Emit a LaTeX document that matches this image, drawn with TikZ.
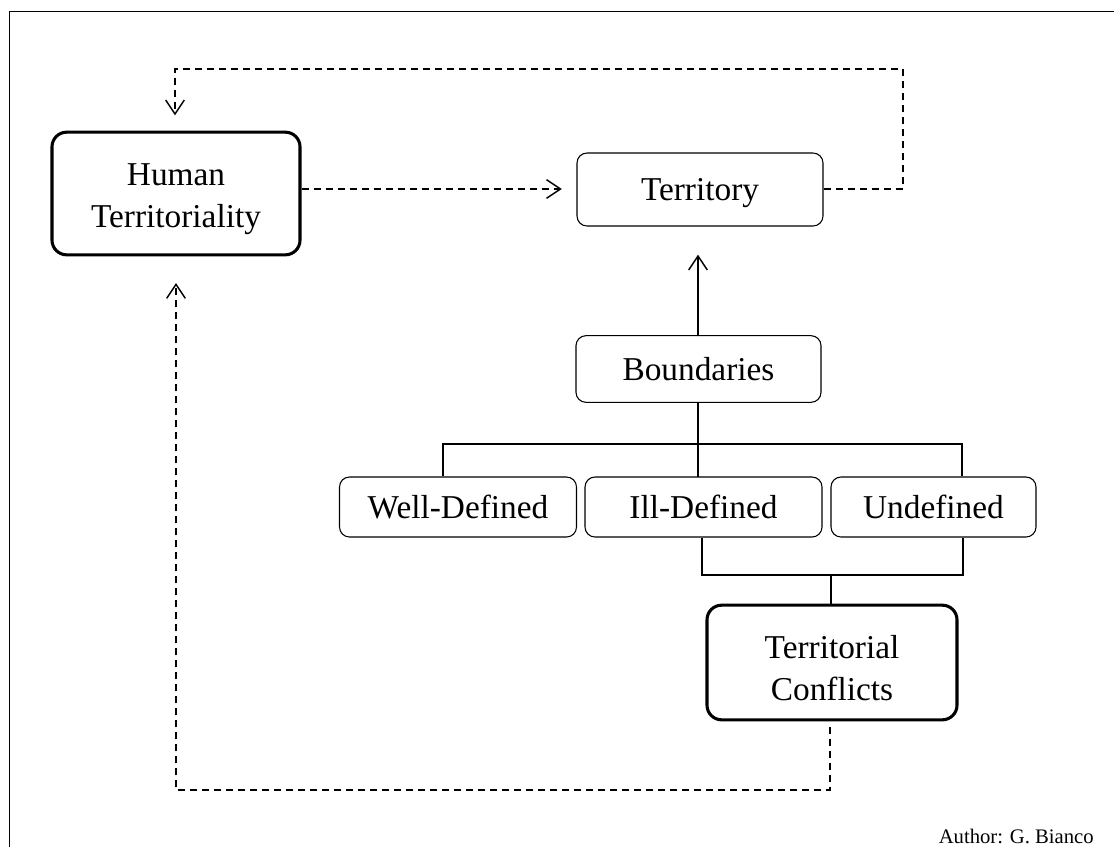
\documentclass[tikz,border=0pt]{standalone}
\usepackage{fontspec}
\setmainfont{Liberation Serif}
\usetikzlibrary{arrows.meta}
\begin{document}
\begin{tikzpicture}[x=0.75pt,y=-0.75pt,
  box/.style={draw, rounded corners=7.5pt, line width=0.8pt, align=center,
    font=\fontsize{25}{31.5}\selectfont, inner sep=0pt},
  bigbox/.style={box, line width=2.3pt, rounded corners=11pt},
  conn/.style={line width=0.8pt},
  dconn/.style={line width=1.2pt, dash pattern=on 5.25pt off 3.75pt},
  tip/.style={-{Straight Barb[length=10.5pt,width=14pt,line width=1.1pt]}}
]
\useasboundingbox (0,0) rectangle (1114,847);
\draw[line width=1.1pt] (9.5,847) -- (9.5,11.5) -- (1114,11.5);

\node[bigbox, minimum width=186pt, minimum height=92pt] (ht) at (176,193.5) {\rule{0pt}{25pt}Human\\Territoriality};
\node[box, minimum width=184.5pt, minimum height=54.75pt, text depth=0pt] (ter) at (700,189.5) {Territory};
\node[box, minimum width=183.75pt, minimum height=50pt] (bnd) at (698.5,369) {Boundaries};
\node[box, minimum width=177.75pt, minimum height=45pt] (wd) at (458,507) {Well-Defined};
\node[box, minimum width=177.75pt, minimum height=45pt] (idf) at (703.5,507) {Ill-Defined};
\node[box, minimum width=153.75pt, minimum height=45pt] (und) at (933.5,507) {Undefined};
\node[bigbox, minimum width=187.5pt, minimum height=86pt] (tc) at (832,662.5) {\rule{0pt}{26pt}Territorial\\Conflicts};
\node[anchor=base east, font=\fontsize{15.5}{18}\selectfont, inner sep=0pt] (auth) at (1094,843) {Author: G. Bianco};

\coordinate (tl) at (443,444);
\coordinate (tr) at (962,444);
\coordinate (bl) at (702,575);
\coordinate (br) at (963,575);
\coordinate (bm) at (831,575);

% tree
\draw[conn] (bnd.south -| 698,0) -- (698,477);
\draw[conn] (tl |- wd.north) -- (tl) -- (tr) -- (tr |- und.north);
\draw[conn] (bl |- idf.south) -- (bl) -- (br) -- (br |- und.south);
\draw[conn] (bm) -- (bm |- tc.north);

% solid arrow
\draw[conn, tip, shorten >=21.5pt] (698,336) -- (698,226);

% dashed
\draw[dconn, tip, shorten >=11pt] (ht.east |- 0,189) -- (ter.west |- 0,189);
\draw[dconn, tip, shorten >=12.5pt] (ter.east |- 0,189) -- (903,189) -- (903,69) -- (175,69) -- (175,132);
\draw[dconn, tip, shorten <=5pt, shorten >=21pt] (830,720) -- (830,790) -- (176,790) -- (176,255);
\end{tikzpicture}
\end{document}
